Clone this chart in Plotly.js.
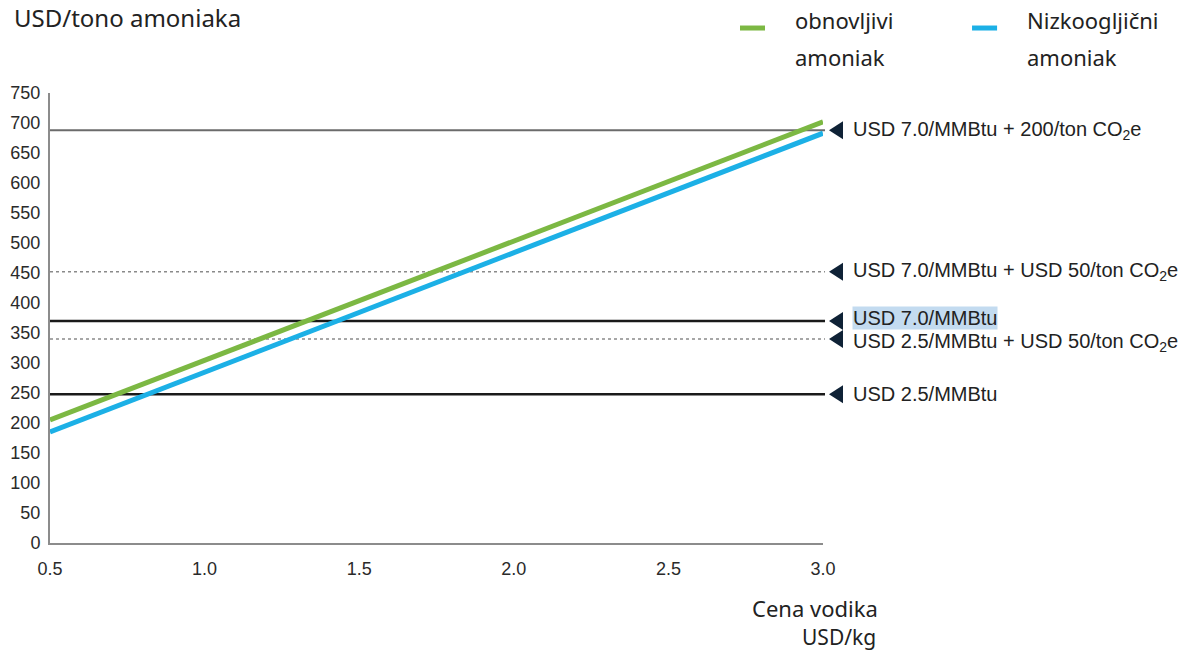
<!DOCTYPE html>
<html>
<head>
<meta charset="utf-8">
<script src="https://cdn.plot.ly/plotly-3.0.1.min.js"></script>
<style>html,body{margin:0;padding:0;background:#fff;}#chart{width:1183px;height:653px;}</style>
</head>
<body>
<div id="chart"></div>
<script>
// Data
const hydrogenPrice = [0.5, 3.0];
const renewableAmmonia = [205, 702];
const lowCarbonAmmonia = [185, 683];
const seriesNames = ["obnovljivi", "Nizkoogljični"];
const seriesNames2 = ["amoniak", "amoniak"];
const seriesColors = ["#7cb843", "#1cb0e6"];
const refValues = [688, 452, 370, 340, 248];
const refLabels = [
  "USD 7.0/MMBtu + 200/ton CO<sub>2</sub>e",
  "USD 7.0/MMBtu + USD 50/ton CO<sub>2</sub>e",
  "USD 7.0/MMBtu",
  "USD 2.5/MMBtu + USD 50/ton CO<sub>2</sub>e",
  "USD 2.5/MMBtu"
];
const refStyles = ["grey", "dot", "black", "dot", "black"];
const labelShift = [0, 0, 3, -3, 0];
const xTicks = [0.5, 1.0, 1.5, 2.0, 2.5, 3.0];
const yTicks = [0, 50, 100, 150, 200, 250, 300, 350, 400, 450, 500, 550, 600, 650, 700, 750];

const styleMap = {
  grey: {color: "#6b6b6b", width: 2, dash: "solid"},
  dot: {color: "#8a8a8a", width: 1.5, dash: "dot"},
  black: {color: "#1a1a1a", width: 2.5, dash: "solid"}
};

const shapes = [];
refValues.forEach((v, i) => {
  shapes.push({
    type: "line", xref: "paper", yref: "y", x0: 0, x1: 1.0026, y0: v, y1: v,
    line: styleMap[refStyles[i]], layer: "below"
  });
  shapes.push({
    type: "path", xref: "paper", yref: "y",
    xsizemode: "pixel", ysizemode: "pixel", xanchor: 1.0168, yanchor: v,
    path: "M-7,0L7,9L7,-9Z",
    fillcolor: "#0f2236", line: {width: 0}
  });
});

const annotations = refLabels.map((t, i) => ({
  xref: "paper", yref: "y", x: 1.0375, y: refValues[i], yshift: labelShift[i],
  text: t, showarrow: false, xanchor: "left", yanchor: "middle",
  font: {family: "Liberation Sans, Arial, sans-serif", size: 20, color: "#222"},
  bgcolor: t === "USD 7.0/MMBtu" ? "#c3dbf0" : "rgba(0,0,0,0)",
  borderpad: 0
}));

// Title
annotations.push({
  xref: "paper", yref: "paper", x: -0.049, y: 1.167, xanchor: "left", yanchor: "middle",
  text: "USD/tono amoniaka", showarrow: false,
  font: {family: "Noto Sans, sans-serif", size: 24, color: "#222"}
});
// X axis title (two lines)
annotations.push({
  xref: "paper", yref: "paper", x: 1.0737, y: -0.1444, xanchor: "right", yanchor: "middle",
  text: "Cena vodika", showarrow: false,
  font: {family: "Noto Sans, sans-serif", size: 22, color: "#222"}
});
annotations.push({
  xref: "paper", yref: "paper", x: 1.0711, y: -0.209, xanchor: "right", yanchor: "middle",
  text: "USD/kg", showarrow: false,
  font: {family: "Noto Sans, sans-serif", size: 21, color: "#222"}
});

// Manual legend
const legendX = [0.8926, 1.1928];
seriesNames.forEach((n, i) => {
  shapes.push({
    type: "line", xref: "paper", yref: "paper",
    x0: legendX[i], x1: legendX[i] + 0.0324, y0: 1.1444, y1: 1.1444,
    line: {color: seriesColors[i], width: 5}
  });
  annotations.push({
    xref: "paper", yref: "paper", x: legendX[i] + 0.0686, y: 1.1622,
    xanchor: "left", yanchor: "middle", text: n, showarrow: false,
    font: {family: "Noto Sans, sans-serif", size: 22, color: "#222"}
  });
  annotations.push({
    xref: "paper", yref: "paper", x: legendX[i] + 0.0686, y: 1.08,
    xanchor: "left", yanchor: "middle", text: seriesNames2[i], showarrow: false,
    font: {family: "Noto Sans, sans-serif", size: 22, color: "#222"}
  });
});

const traces = [
  {x: hydrogenPrice, y: renewableAmmonia, name: seriesNames[0] + " " + seriesNames2[0], mode: "lines",
   line: {color: seriesColors[0], width: 5}},
  {x: hydrogenPrice, y: lowCarbonAmmonia, name: seriesNames[1] + " " + seriesNames2[1], mode: "lines",
   line: {color: seriesColors[1], width: 5}}
];

const layout = {
  width: 1183, height: 653,
  margin: {l: 50, r: 360, t: 93, b: 110},
  paper_bgcolor: "#fff", plot_bgcolor: "#fff",
  showlegend: false,
  xaxis: {
    range: [0.5, 3.0], tickvals: xTicks, ticktext: xTicks.map(v => v.toFixed(1)),
    showgrid: false, zeroline: false, showline: true, linecolor: "#8c8c8c", linewidth: 2,
    ticks: "", ticklabelstandoff: 8,
    tickfont: {family: "Liberation Sans, Arial, sans-serif", size: 18, color: "#2a2a2a"}
  },
  yaxis: {
    range: [0, 750], tickvals: yTicks,
    showgrid: false, zeroline: false, showline: true, linecolor: "#8c8c8c", linewidth: 2,
    ticks: "", ticklabelstandoff: 4,
    tickfont: {family: "Liberation Sans, Arial, sans-serif", size: 18, color: "#2a2a2a"}
  },
  shapes: shapes,
  annotations: annotations
};

Plotly.newPlot("chart", traces, layout, {displayModeBar: false, staticPlot: true});
</script>
</body>
</html>
